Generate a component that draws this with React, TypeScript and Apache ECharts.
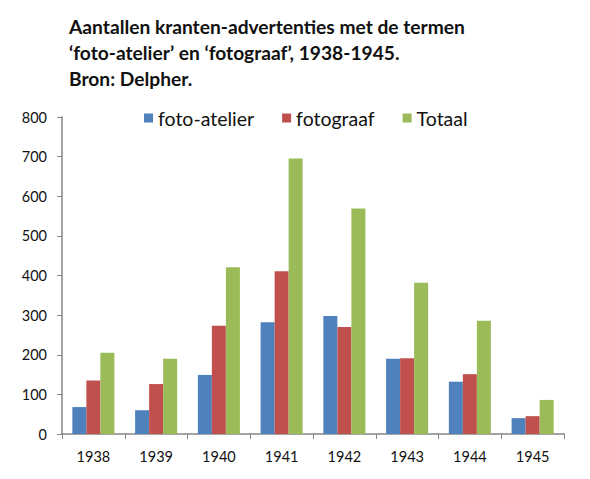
import React, { useEffect, useRef } from "react";
import * as echarts from "echarts";

const years = ["1938", "1939", "1940", "1941", "1942", "1943", "1944", "1945"];
const fotoAtelier = [68, 60, 149, 282, 298, 190, 132, 40];
const fotograaf = [135, 126, 273, 411, 270, 191, 151, 45];
const totaal = [205, 190, 421, 695, 569, 382, 286, 86];
const titleLines = [
  "Aantallen kranten-advertenties met de termen",
  "\u2018foto-atelier\u2019 en \u2018fotograaf\u2019, 1938-1945.",
  "Bron: Delpher.",
];

const FONT = "Lato, 'Open Sans', sans-serif";

export default function App() {
  const ref = useRef<HTMLDivElement>(null);
  useEffect(() => {
    if (!ref.current) return;
    const chart = echarts.init(ref.current, undefined, { renderer: "svg" });
    const axisColor = "#868686";
    chart.setOption({
      animation: false,
      backgroundColor: "#ffffff",
      title: {
        text: titleLines.join("\n"),
        left: 64,
        top: 8,
        textStyle: {
          fontFamily: FONT,
          fontWeight: "bold",
          fontSize: 19.2,
          lineHeight: 26,
          color: "#111111",
        },
      },
      legend: {
        left: 139,
        top: 103,
        icon: "rect",
        itemWidth: 9,
        itemHeight: 9,
        itemGap: 28,
        textStyle: { fontFamily: FONT, fontSize: 19.5, color: "#111111" },
        data: ["foto-atelier", "fotograaf", "Totaal"],
      },
      grid: { left: 62, right: 26, top: 117, bottom: 45, containLabel: false },
      xAxis: {
        type: "category",
        data: years,
        axisLine: { lineStyle: { color: axisColor, width: 1.5 } },
        axisTick: { show: true, length: 5, lineStyle: { color: axisColor } },
        axisLabel: { fontFamily: FONT, fontSize: 14.5, color: "#111111", margin: 15 },
      },
      yAxis: {
        type: "value",
        min: 0,
        max: 800,
        interval: 100,
        splitLine: { show: false },
        axisLine: { show: true, lineStyle: { color: axisColor, width: 1.5 } },
        axisTick: { show: true, length: 5, lineStyle: { color: axisColor } },
        axisLabel: { fontFamily: FONT, fontSize: 14.5, color: "#111111", margin: 15 },
      },
      series: [
        { name: "foto-atelier", type: "bar", data: fotoAtelier, barGap: "0%", barCategoryGap: "33%", itemStyle: { color: "#4F81BD" } },
        { name: "fotograaf", type: "bar", data: fotograaf, barGap: "0%", barCategoryGap: "33%", itemStyle: { color: "#C0504D" } },
        { name: "Totaal", type: "bar", data: totaal, barGap: "0%", barCategoryGap: "33%", itemStyle: { color: "#9BBB59" } },
      ],
    });
    return () => chart.dispose();
  }, []);
  return <div ref={ref} style={{ width: 590, height: 479, position: "absolute", left: 0, top: 0 }} />;
}
